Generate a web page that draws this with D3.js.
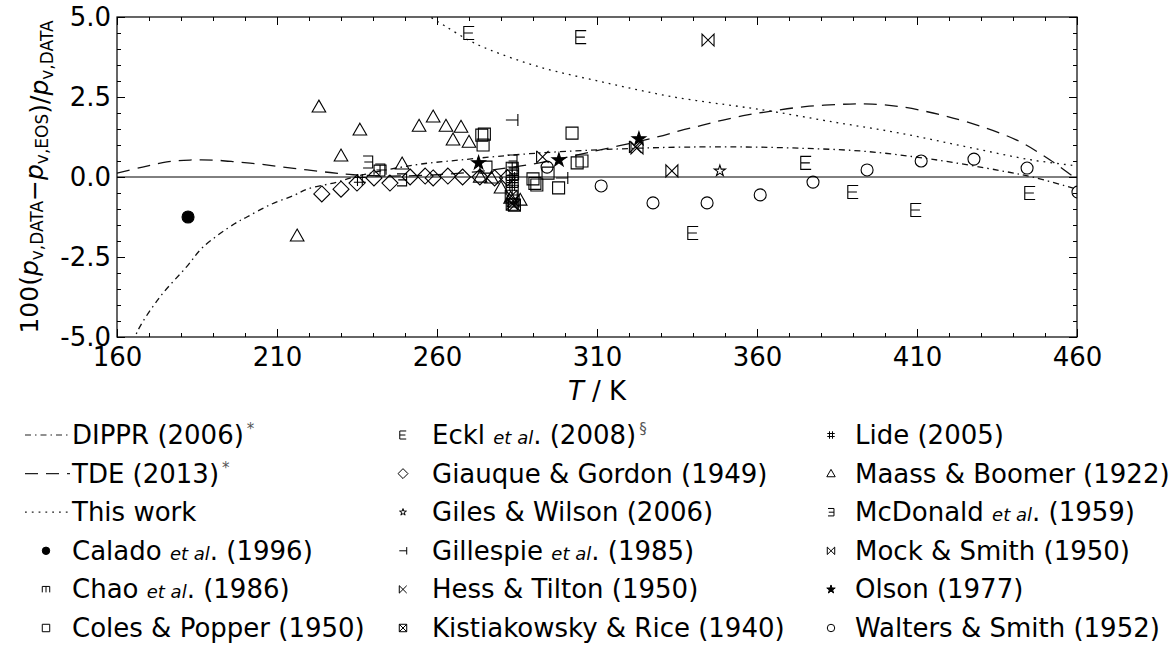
<!DOCTYPE html>
<html>
<head>
<meta charset="utf-8">
<script src="https://cdn.jsdelivr.net/npm/d3@7"></script>
<style>
body { margin: 0; background: #fff; }
svg { font-family: "DejaVu Sans", sans-serif; }
</style>
</head>
<body>
<div id="chart"></div>
<script>
// deviation curves, [T/K, 100*(p_data - p_eos)/p_data]
var dippr = [[165,-5.2],[166.6,-4.78],[173.4,-3.75],[181.8,-2.8],[186.9,-2.19],[196.6,-1.47],[200.6,-1.25],[207.8,-0.87],
	[215.6,-0.56],[219.4,-0.38],[228.7,-0.16],[234,0],[252.5,0.37],[267,0.53],[292,0.75],[323,0.9],[342,0.94],[355,0.94],
	[373.4,0.9],[394,0.8],[415,0.55],[436,0.2],[446,0],[458.8,-0.35],[461,-0.42]];
var tde = [[160,0.12],[168,0.31],[175.6,0.47],[182.8,0.53],[190,0.53],[197.5,0.47],[204.7,0.4],[212,0.31],[219.4,0.22],
	[226.6,0.14],[233.8,0.07],[245,0.03],[260,0.07],[272,0.16],[281.8,0.28],[292,0.44],[308,0.78],[328.8,1.25],[336,1.45],
	[343,1.62],[349.4,1.78],[357,1.94],[364,2.05],[375,2.2],[389,2.28],[396,2.28],[404.7,2.2],[415,2.0],[425.6,1.72],
	[441,1.16],[451.6,0.53],[459,0.0],[462,-0.2]];
var thisWork = [[255,5.25],[258,5.0],[262.5,4.72],[270,4.27],[276.6,3.97],[292,3.44],[313,2.94],[334,2.5],[354.7,2.2],
	[363,2.08],[383.8,1.72],[404.7,1.37],[425.6,0.94],[446,0.53],[460,0.35]];

// experimental data
var calado = [[182.2,-1.25]];
var chao = [[242.2,0.22],[283.5,0.31],[283.5,0.06],[283.5,-0.16],[283.5,-0.41]];
var coles = [[274.0,1.31],[274.8,1.34],[274.4,1.0],[275.3,0.31],[290.0,-0.06],[290.6,-0.2],[291.2,-0.25],
	[294.7,0.12],[298.0,-0.34],[302.2,1.37],[303.8,0.44],[305.3,0.5]];
var eckl = [[270.0,4.5],[305.0,4.37],[340.0,-1.75],[375.3,0.44],[390.0,-0.47],[409.7,-1.03],[445.3,-0.5]];
var giauque = [[224.0,-0.53],[230.0,-0.38],[235.0,-0.19],[240.3,-0.03],[245.3,-0.19],[251.6,0.0],[256.3,0.03],
	[258.8,-0.03],[263.4,0.03],[268.0,0.0],[273.4,0.0],[278.0,-0.03],[282.0,-0.02]];
var giles = [[348.4,0.19]];
var gillespie = [[283.4,1.78],[299.0,-0.03]];
var hess = [[293.0,0.63],[322.0,0.94]];
var kistiakowsky = [[283.2,-0.6],[283.8,-0.75],[284.2,-0.88],[283.5,-0.85]];
var lide = [[235.9,-0.09],[283.5,-0.03],[283.5,-0.25]];
var maass = [[216.3,-1.84],[223.1,2.19],[230.0,0.66],[235.9,1.47],[249.1,0.41],[254.4,1.59],[258.8,1.88],[262.8,1.59],
	[265.0,1.16],[267.5,1.56],[270.0,1.09],[273.5,0.0],[277.0,-0.03],[280.0,-0.34],[283.0,-0.66],[286.0,-0.72]];
var mcdonald = [[238.4,0.47],[242.2,0.22],[249.0,-0.09],[283.5,0.5],[283.5,0.25],[284.0,0.1]];
var mock = [[344.7,4.28],[322.5,0.91],[333.4,0.19]];
var olson = [[273.0,0.44],[298.1,0.53],[323.1,1.19]];
var walters = [[294.4,0.31],[311.3,-0.28],[327.5,-0.81],[344.4,-0.81],[361.0,-0.56],[377.5,-0.16],[394.4,0.22],
	[411.3,0.5],[427.8,0.56],[444.4,0.28],[460.3,-0.47]];

var xTicks = [160, 210, 260, 310, 360, 410, 460];
var yTicks = [-5, -2.5, 0, 2.5, 5];

var width = 1176, height = 650;
var plotLeft = 117, plotRight = 1077, plotTop = 17, plotBottom = 337;

var x = d3.scaleLinear().domain([160, 460]).range([plotLeft, plotRight]);
var y = d3.scaleLinear().domain([-5, 5]).range([plotBottom, plotTop]);

var svg = d3.select("#chart").append("svg")
	.attr("width", width)
	.attr("height", height)
	.attr("xmlns", "http://www.w3.org/2000/svg");

svg.append("clipPath").attr("id", "clip")
	.append("rect")
	.attr("x", plotLeft).attr("y", plotTop)
	.attr("width", plotRight - plotLeft).attr("height", plotBottom - plotTop);

// marker shapes, r is the half size
function markerPath(type, r) {
	switch (type) {
	case "circle":
		return "M" + (-r) + ",0A" + r + "," + r + " 0 1,0 " + r + ",0A" + r + "," + r + " 0 1,0 " + (-r) + ",0Z";
	case "square":
		return "M" + (-r) + "," + (-r) + "H" + r + "V" + r + "H" + (-r) + "Z";
	case "diamond":
		return "M0," + (-r) + "L" + r + ",0L0," + r + "L" + (-r) + ",0Z";
	case "triangle":
		return "M0," + (-r) + "L" + r + "," + (r * 0.75) + "L" + (-r) + "," + (r * 0.75) + "Z";
	case "star":
		return d3.symbol(d3.symbolStar, r * r * 0.9)();
	case "E":
		return "M" + (r * 0.8) + "," + (-r) + "H" + (-r * 0.8) + "V" + r + "H" + (r * 0.8) + "M" + (-r * 0.8) + ",0H" + (r * 0.6);
	case "rE":
		return "M" + (-r * 0.8) + "," + (-r) + "H" + (r * 0.8) + "V" + r + "H" + (-r * 0.8) + "M" + (r * 0.8) + ",0H" + (-r * 0.6);
	case "chao":
		return "M" + (-r) + "," + (r * 0.8) + "V" + (-r * 0.8) + "H" + r + "V" + (r * 0.8) + "M0," + (-r * 0.8) + "V" + (r * 0.8);
	case "tack":
		return "M" + (-r) + ",0H" + r + "M" + r + "," + (-r) + "V" + r;
	case "ltimes":
		return "M" + (-r) + "," + (-r) + "V" + r + "M" + (-r) + "," + (-r) + "L" + r + "," + r + "M" + (-r) + "," + r + "L" + r + "," + (-r);
	case "bowtie":
		return "M" + (-r) + "," + (-r) + "V" + r + "L" + r + "," + (-r) + "V" + r + "Z";
	case "boxtimes":
		return "M" + (-r) + "," + (-r) + "H" + r + "V" + r + "H" + (-r) + "Z" +
			"M" + (-r) + "," + (-r) + "L" + r + "," + r + "M" + (-r) + "," + r + "L" + r + "," + (-r);
	case "hash":
		var a = r * 0.4;
		return "M" + (-a) + "," + (-r) + "V" + r + "M" + a + "," + (-r) + "V" + r +
			"M" + (-r) + "," + (-a) + "H" + r + "M" + (-r) + "," + a + "H" + r;
	}
}

var series = [
	{data: calado, marker: "circle", r: 6, fill: true},
	{data: chao, marker: "chao", r: 6},
	{data: coles, marker: "square", r: 6},
	{data: eckl, marker: "E", r: 6.5},
	{data: giauque, marker: "diamond", r: 8},
	{data: giles, marker: "star", r: 6.5},
	{data: gillespie, marker: "tack", r: 6},
	{data: hess, marker: "ltimes", r: 6},
	{data: kistiakowsky, marker: "boxtimes", r: 6},
	{data: lide, marker: "hash", r: 6},
	{data: maass, marker: "triangle", r: 6.8},
	{data: mcdonald, marker: "rE", r: 6},
	{data: mock, marker: "bowtie", r: 6},
	{data: olson, marker: "star", r: 8, fill: true},
	{data: walters, marker: "circle", r: 6}
];

// ticks, inward on all four sides
function addAxis(axis, transform, values, size, labels) {
	var g = svg.append("g")
		.attr("transform", transform)
		.call(axis.tickValues(values).tickSize(size).tickPadding(11)
			.tickFormat(labels ? labels : ""));
	g.select(".domain").remove();
	g.selectAll("line").attr("stroke", "#000").attr("stroke-width", 1);
	g.selectAll("text").attr("fill", "#000").style("font-size", "26px")
		.style("font-family", "DejaVu Sans, sans-serif");
	return g;
}

var xMinor = d3.range(160, 461, 10).filter(function(d){ return xTicks.indexOf(d) == -1; });
var yMinor = d3.range(-5, 5.01, 0.5).filter(function(d){ return yTicks.indexOf(d) == -1; });
var fmt = function(d){ return d.toFixed(1); };

addAxis(d3.axisBottom(x), "translate(0," + plotBottom + ")", xTicks, -8, function(d){ return d; });
addAxis(d3.axisBottom(x), "translate(0," + plotBottom + ")", xMinor, -4);
addAxis(d3.axisTop(x), "translate(0," + plotTop + ")", xTicks, -8);
addAxis(d3.axisTop(x), "translate(0," + plotTop + ")", xMinor, -4);
addAxis(d3.axisLeft(y), "translate(" + plotLeft + ",0)", yTicks, -8, fmt).selectAll("text").attr("x", -6);
addAxis(d3.axisLeft(y), "translate(" + plotLeft + ",0)", yMinor, -4);
addAxis(d3.axisRight(y), "translate(" + plotRight + ",0)", yTicks, -8);
addAxis(d3.axisRight(y), "translate(" + plotRight + ",0)", yMinor, -4);

// zero line
svg.append("line")
	.attr("x1", plotLeft).attr("x2", plotRight)
	.attr("y1", y(0)).attr("y2", y(0))
	.attr("stroke", "#000").attr("stroke-width", 1);

var plot = svg.append("g").attr("clip-path", "url(#clip)");

var line = d3.line()
	.x(function(d){ return x(d[0]); })
	.y(function(d){ return y(d[1]); })
	.curve(d3.curveCatmullRom);

var curves = [
	{data: dippr, dash: "6,4,1.5,4"},
	{data: tde, dash: "13,8"},
	{data: thisWork, dash: "1.8,5"}
];

curves.forEach(function(c){
	plot.append("path")
		.attr("d", line(c.data))
		.attr("fill", "none")
		.attr("stroke", "#111")
		.attr("stroke-width", 1.3)
		.attr("stroke-dasharray", c.dash);
});

series.forEach(function(s){
	plot.selectAll(null)
		.data(s.data)
		.enter()
		.append("path")
		.attr("transform", function(d){ return "translate(" + x(d[0]) + "," + y(d[1]) + ")"; })
		.attr("d", markerPath(s.marker, s.r))
		.attr("fill", s.fill ? "#000" : "none")
		.attr("stroke", "#000")
		.attr("stroke-width", 1.1);
});

// frame
svg.append("rect")
	.attr("x", plotLeft).attr("y", plotTop)
	.attr("width", plotRight - plotLeft).attr("height", plotBottom - plotTop)
	.attr("fill", "none").attr("stroke", "#000").attr("stroke-width", 1.2);

// axis labels
var xl = svg.append("text")
	.attr("x", (plotLeft + plotRight) / 2).attr("y", 400)
	.attr("text-anchor", "middle")
	.style("font-size", "26px");
xl.append("tspan").style("font-style", "italic").text("T");
xl.append("tspan").text(" / K");

var yl = svg.append("text")
	.attr("transform", "translate(38," + ((plotTop + plotBottom) / 2) + ") rotate(-90)")
	.attr("text-anchor", "middle")
	.style("font-size", "25px");
function pv(sub) {
	yl.append("tspan").style("font-style", "italic").text("p");
	yl.append("tspan").attr("dy", 5).style("font-size", "17px").text("v," + sub);
	yl.append("tspan").attr("dy", -5).text("");
}
yl.append("tspan").text("100(");
pv("DATA");
yl.append("tspan").text("\u2212");
pv("EOS");
yl.append("tspan").text(")/");
pv("DATA");

// legend
var legendRows = [
	[{line: "6,4,1.5,4", parts: [["DIPPR (2006)"]], sup: "*"},
	 {line: "13,8", parts: [["TDE (2013)"]], sup: "*"},
	 {line: "1.8,5", parts: [["This work"]]},
	 {s: 0, parts: [["Calado "], ["et al", 1], [". (1996)"]]},
	 {s: 1, parts: [["Chao "], ["et al", 1], [". (1986)"]]},
	 {s: 2, parts: [["Coles & Popper (1950)"]]}],
	[{s: 3, parts: [["Eckl "], ["et al", 1], [". (2008)"]], sup: "\u00a7"},
	 {s: 4, parts: [["Giauque & Gordon (1949)"]]},
	 {s: 5, parts: [["Giles & Wilson (2006)"]]},
	 {s: 6, parts: [["Gillespie "], ["et al", 1], [". (1985)"]]},
	 {s: 7, parts: [["Hess & Tilton (1950)"]]},
	 {s: 8, parts: [["Kistiakowsky & Rice (1940)"]]}],
	[{s: 9, parts: [["Lide (2005)"]]},
	 {s: 10, parts: [["Maass & Boomer (1922)"]]},
	 {s: 11, parts: [["McDonald "], ["et al", 1], [". (1959)"]]},
	 {s: 12, parts: [["Mock & Smith (1950)"]]},
	 {s: 13, parts: [["Olson (1977)"]]},
	 {s: 14, parts: [["Walters & Smith (1952)"]]}]
];
var colMarkerX = [46, 403, 831];
var colTextX = [72, 432, 855];

legendRows.forEach(function(col, ci){
	col.forEach(function(item, ri){
		var ly = 435 + ri * 38.6;
		var g = svg.append("g");
		if (item.line) {
			g.append("line")
				.attr("x1", 25).attr("x2", 70)
				.attr("y1", ly).attr("y2", ly)
				.attr("stroke", "#222").attr("stroke-width", 1.2)
				.attr("stroke-dasharray", item.line);
		} else {
			var s = series[item.s];
			g.append("path")
				.attr("transform", "translate(" + colMarkerX[ci] + "," + ly + ")")
				.attr("d", markerPath(s.marker, s.r * 0.62))
				.attr("fill", s.fill ? "#000" : "none")
				.attr("stroke", "#000").attr("stroke-width", 1);
		}
		var t = g.append("text")
			.attr("x", colTextX[ci]).attr("y", ly + 9)
			.style("font-size", "26px");
		item.parts.forEach(function(p){
			t.append("tspan")
				.style("font-style", p[1] ? "italic" : "normal")
				.style("font-size", p[1] ? "18px" : null)
				.text(p[0]);
		});
		if (item.sup) {
			t.append("tspan").attr("dx", 3).attr("dy", -10)
				.style("font-size", "15px").attr("fill", "#555").text(item.sup);
		}
	});
});
</script>
</body>
</html>
